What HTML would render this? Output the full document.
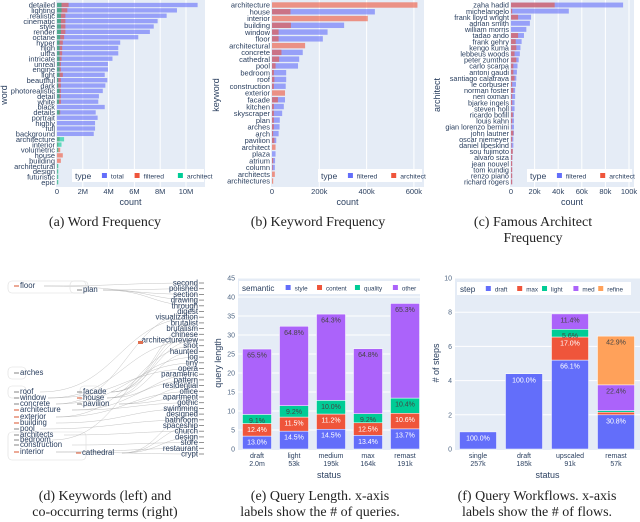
<!DOCTYPE html>
<html><head><meta charset="utf-8">
<style>
body{margin:0;background:#fff;}
svg{display:block;font-family:"Liberation Sans",sans-serif;}
.cap{font-family:"Liberation Serif",serif;font-size:14px;fill:#222;text-anchor:middle;}
</style></head>
<body>
<svg id="fig" width="640" height="522" viewBox="0 0 640 522"></svg>
<script>
// ---- (a) word frequency data (millions) ----
const wordCats=["detailed","lighting","realistic","cinematic","style","render","octane","hyper","high","ultra","intricate","unreal","engine","light","beautiful","dark","photorealistic","detail","white","black","details","portrait","highly","full","background","architecture","interior","volumetric","house","building","architectural","design","futuristic","epic"];
const wordTotal=[10.9,9.3,8.5,7.8,7.5,7.2,6.3,4.9,4.75,4.75,4.3,3.95,3.95,3.7,3.9,3.75,3.55,3.25,3.2,3.7,3.0,3.15,2.95,2.95,2.85,0,0,0,0,0,0,0,0,0];
const wordFiltered=[0.9,0.8,0.65,0.65,0.65,0.65,0.55,0.45,0.4,0.4,0.35,0.3,0.3,0.45,0.3,0.3,0.3,0.3,0.3,0,0.25,0,0,0,0,0.2,0.1,0.25,0.45,0.3,0.05,0.05,0.05,0.05];
const wordArchitect=[0.35,0.35,0.3,0.3,0.3,0.3,0.25,0.2,0.2,0.2,0.2,0.2,0.2,0.2,0.1,0.1,0.2,0.2,0.15,0,0.2,0,0,0,0,0.55,0.35,0.1,0,0,0.1,0.1,0.1,0.1];
const wordTicks=[0,2,4,6,8,10];
const wordTickLabels=["0","2M","4M","6M","8M","10M"];
// ---- (b) keyword frequency (thousands) ----
const kwCats=["architecture","house","interior","building","window","floor","architectural","concrete","cathedral","pool","bedroom","roof","construction","exterior","facade","kitchen","skyscraper","plan","arches","arch","pavilion","architect","plaza","atrium","column","architects","architectures"];
const kwFiltered=[0,435,0,305,235,215,0,130,115,110,60,60,58,0,55,50,43,33,32,28,18,0,15,13,12,0,0];
const kwArchitect=[615,78,405,80,28,28,140,40,30,15,8,10,8,55,25,8,8,8,8,5,10,15,0,5,3,12,5];
const kwTicks=[0,200,400,600];
const kwTickLabels=["0","200k","400k","600k"];
// ---- (c) architect frequency (thousands) ----
const arCats=["zaha hadid","michelangelo","frank lloyd wright","adrian smith","william morris","tadao ando","frank gehry","kengo kuma","lebbeus woods","peter zumthor","carlo scarpa","antoni gaudi","santiago calatrava","le corbusier","norman foster","neri oxman","bjarke ingels","steven holl","ricardo bofill","louis kahn","gian lorenzo bernini","john lautner","oscar niemeyer","daniel libeskind","sou fujimoto","alvaro siza","jean nouvel","tom kundig","renzo piano","richard rogers"];
const arFiltered=[95,49,17,16,13,11,9,8,7.5,6.5,5.5,5,4.5,4.2,3.5,3.5,3,3,2.5,2.5,2.5,2.5,2,2,1.5,1.2,1,1,1,1];
const arArchitect=[37,1,6,0,0,6,4,4.5,3,4.5,2,2,3,1,2,1,1,0.5,1.5,1,0.5,2,1,0.5,1.5,1,1,1,1,1];
const arTicks=[0,20,40,60,80,100];
const arTickLabels=["0","20k","40k","60k","80k","100k"];
// ---- (e) query length ----
const qlCats=["draft","light","medium","max","remast"];
const qlCounts=["2.0m","53k","195k","164k","191k"];
const qlStyle=[3.4,4.7,5.2,3.6,5.3];
const qlContent=[3.3,3.7,4.0,3.3,4.1];
const qlQuality=[2.4,3.0,3.6,2.4,4.0];
const qlOther=[17.2,20.9,22.7,17.1,24.9];
const qlStyleLbl=["13.0%","14.5%","14.5%","13.4%","13.7%"];
const qlContentLbl=["12.4%","11.5%","11.2%","12.5%","10.6%"];
const qlQualityLbl=["9.1%","9.2%","10.0%","9.2%","10.4%"];
const qlOtherLbl=["65.5%","64.8%","64.3%","64.8%","65.3%"];
const qlTicks=[0,5,10,15,20,25,30,35,40,45];
// ---- (f) workflows ----
const wfCats=["single","draft","upscaled","remast"];
const wfCounts=["257k","185k","91k","57k"];
const wfDraft=[1,4.4,5.2,2.0];
const wfMax=[0,0,1.35,0.15];
const wfLight=[0,0,0.45,0.1];
const wfMed=[0,0,0.9,1.5];
const wfRefine=[0,0,0,2.85];
const wfDraftLbl=["100.0%","100.0%","66.1%","30.8%"];
const wfMaxLbl=["","","17.0%",""];
const wfLightLbl=["","","5.6%",""];
const wfMedLbl=["","","11.4%","22.4%"];
const wfRefineLbl=["","","","42.9%"];
const wfTicks=[0,2,4,6,8,10];
// ---- (d) keyword graph ----
const dLeft=[["floor",20,288],["arches",20,375],["roof",20,394],["window",20,400],["concrete",20,406],["architecture",20,412],["exterior",20,419],["building",20,425],["pool",20,431],["architects",20,437],["bedroom",20,442],["construction",20,447],["interior",20,454],["plan",83,292],["facade",83,394],["house",83,400],["pavilion",83,406],["cathedral",82,455]];
const dRight=["second","polished","section","drawing","through","digest","visualization","brutalist","brutalism","chinese","architectureview","shot","haunted","log","tiny","opera","parametric","pattern","residential","office","apartment","gothic","swimming","designed","bathroom","spaceship","church","design","store","restaurant","crypt"];

const NS="http://www.w3.org/2000/svg";
const svg=document.getElementById('fig');
function el(tag,attrs,parent,text){const e=document.createElementNS(NS,tag);for(const k in attrs)e.setAttribute(k,attrs[k]);if(text!==undefined)e.textContent=text;(parent||svg).appendChild(e);return e;}
const BLUE="#636efa",RED="#ef553b",GREEN="#00cc96",PURPLE="#ab63fa",ORANGE="#ffa15a",TXT="#2a3f5f",BG="#e5ecf6";

function legend(x,y,w,title,items,fs){
  const g=el('g',{});
  
  
  el('rect',{x:x,y:y,width:w,height:13,fill:'#fff'},g);
  el('text',{x:x+3,y:y+10,'font-size':fs+1.8,fill:TXT},g,title);
  const tw=title.length*(fs+1.8)*0.55+8;
  const total=items.reduce((s,it)=>s+9+it[0].length*fs*0.52,0);
  const gap=Math.max(6,(w-tw-6-total)/items.length);
  let cx=x+3+tw;
  items.forEach(it=>{
    const e=el('g',{},g);
    
    
    el('rect',{x:cx,y:y+4,width:5,height:5,fill:it[1]},e);
    el('text',{x:cx+9,y:y+9.5,'font-size':fs,fill:TXT},e,it[0]);
    cx+=9+it[0].length*fs*0.52+gap;
  });
}

function hbar(o){
  const g=el('g',{});
  
  
  el('rect',{x:o.px0,y:0,width:o.px1-o.px0,height:187,fill:BG},g);
  const sx=v=>o.x0+v*o.scale;
  const sy=i=>o.y0+i*o.gap;
  o.ticks.forEach((t,i)=>{
    if(t>0) el('line',{x1:sx(t),x2:sx(t),y1:0,y2:187,stroke:'#fff','stroke-width':1},g);
    el('text',{x:sx(t),y:194,'font-size':7.5,fill:TXT,'text-anchor':'middle'},g,o.tickLabels[i]);
  });
  el('text',{x:(o.px0+o.px1)/2,y:205,'font-size':9,fill:TXT,'text-anchor':'middle'},g,'count');
  const yt=el('text',{x:o.ytx,y:95,'font-size':9,fill:TXT,'text-anchor':'middle',transform:`rotate(-90 ${o.ytx} 95)`},g,o.ytitle);
  
  
  o.cats.forEach((c,i)=>{
    el('text',{x:o.x0-2,y:sy(i)+2.7,'font-size':o.fs,fill:TXT,'text-anchor':'end'},g,c);
    o.series.forEach(s=>{
      const v=s[0][i];
      if(v>0){
        const r=el('rect',{x:sx(0),y:sy(i)-o.bh/2,width:v*o.scale,height:o.bh,fill:s[1],'fill-opacity':0.6},g);
        
        
      }
    });
  });
}

hbar({name:'word-frequency-chart',px0:56,px1:205,x0:57,scale:12.9,y0:5,gap:5.37,bh:4.3,fs:7.5,cats:wordCats,
  series:[[wordTotal,BLUE],[wordFiltered,RED],[wordArchitect,GREEN]],ticks:wordTicks,tickLabels:wordTickLabels,ytitle:'word',ytx:7});
legend(72,169,132,'type',[['total',BLUE],['filtered',RED],['architect',GREEN]],6.8);
hbar({name:'keyword-frequency-chart',px0:271,px1:424,x0:272,scale:0.2365,y0:5,gap:6.77,bh:5.4,fs:7.5,cats:kwCats,
  series:[[kwFiltered,BLUE],[kwArchitect,RED]],ticks:kwTicks,tickLabels:kwTickLabels,ytitle:'keyword',ytx:219});
legend(318,169,104,'type',[['filtered',BLUE],['architect',RED]],6.8);
hbar({name:'architect-frequency-chart',px0:510,px1:634,x0:511,scale:1.18,y0:5,gap:6.1,bh:4.9,fs:7.3,cats:arCats,
  series:[[arFiltered,BLUE],[arArchitect,RED]],ticks:arTicks,tickLabels:arTickLabels,ytitle:'architect',ytx:440});
legend(527,169,105,'type',[['filtered',BLUE],['architect',RED]],6.8);

// captions
[["(a) Word Frequency",105,226],["(b) Keyword Frequency",318,226],["(c) Famous Architect",533,226],["Frequency",533,242],
 ["(d) Keywords (left) and",105,500],["co-occurring terms (right)",105,516],["(e) Query Length. x-axis",320,500],["labels show the # of queries.",320,516],
 ["(f) Query Workflows. x-axis",537,500],["labels show the # of flows.",537,516]].forEach(c=>{
  const t=el('text',{x:c[1],y:c[2],class:'cap'},svg,c[0]);
  
  
});

// stacked vertical bars
function vstack(o){
  const g=el('g',{});
  
  
  el('rect',{x:o.px0,y:278,width:o.px1-o.px0,height:172,fill:BG},g);
  const sy=v=>449-v*o.scale;
  o.ticks.forEach(t=>{
    if(t>0) el('line',{x1:o.px0,x2:o.px1,y1:sy(t),y2:sy(t),stroke:'#fff','stroke-width':1},g);
    el('text',{x:o.px0-3,y:sy(t)+2.5,'font-size':7,fill:'#506784','text-anchor':'end'},g,String(t));
  });
  const ytx=o.ytx;
  el('text',{x:ytx,y:363,'font-size':9,fill:TXT,'text-anchor':'middle',transform:`rotate(-90 ${ytx} 363)`},g,o.ytitle);
  el('text',{x:(o.px0+o.px1)/2,y:478,'font-size':9,fill:TXT,'text-anchor':'middle'},g,'status');
  o.cats.forEach((c,i)=>{
    const cx=o.c0+i*o.step;
    el('text',{x:cx,y:458,'font-size':7,fill:TXT,'text-anchor':'middle'},g,c);
    el('text',{x:cx,y:466,'font-size':7,fill:TXT,'text-anchor':'middle'},g,o.counts[i]);
    let base=0;
    o.series.forEach(s=>{
      const v=s[0][i];
      if(v>0){
        const r=el('rect',{x:cx-o.bw/2,y:sy(base+v),width:o.bw,height:v*o.scale,fill:s[1],stroke:'#fff','stroke-width':0.5},g);
        
        
        const lbl=s[2][i];
        if(lbl){
          const dark=(s[1]==PURPLE||s[1]==ORANGE||s[1]==GREEN);
          const fs=v*o.scale<7?4.5:7;
          el('text',{x:cx,y:sy(base+v)+(fs<5?5:8.5),'font-size':fs,fill:dark?'#444':'#fff','text-anchor':'middle'},g,lbl);
        }
      }
      base+=v;
    });
  });
}
vstack({name:'query-length-chart',px0:238,px1:420,scale:3.8,ticks:qlTicks,ytitle:'query length',ytx:221,c0:257,step:37,bw:29,
  cats:qlCats,counts:qlCounts,series:[[qlStyle,BLUE,qlStyleLbl,'style'],[qlContent,RED,qlContentLbl,'content'],[qlQuality,GREEN,qlQualityLbl,'quality'],[qlOther,PURPLE,qlOtherLbl,'other']]});
legend(239,281,181,'semantic',[['style',BLUE],['content',RED],['quality',GREEN],['other',PURPLE]],6.3);
vstack({name:'workflow-chart',px0:455,px1:640,scale:17.1,ticks:wfTicks,ytitle:'# of steps',ytx:439,c0:478,step:46,bw:37,
  cats:wfCats,counts:wfCounts,series:[[wfDraft,BLUE,wfDraftLbl,'draft'],[wfMax,RED,wfMaxLbl,'max'],[wfLight,GREEN,wfLightLbl,'light'],[wfMed,PURPLE,wfMedLbl,'med'],[wfRefine,ORANGE,wfRefineLbl,'refine']]});
legend(457,282,174,'step',[['draft',BLUE],['max',RED],['light',GREEN],['med',PURPLE],['refine',ORANGE]],6.3);

// (d) keyword co-occurrence graph
(function(){
  const g=el('g',{});
  
  
  const ry=i=>285+i*5.7;
  const links=[[0,0],[0,2],[13,1],[13,3],[13,4],[14,7],[14,8],[14,10],[15,9],[15,12],[15,16],[16,18],[16,20],[2,6],[3,10],[4,14],[5,17],[6,19],[7,22],[8,24],[9,26],[10,11],[11,28],[12,29],[12,30],[17,27],[17,25],[17,23],[5,21],[3,15],[4,5],[6,13]];
  links.forEach(l=>{
    const a=dLeft[l[0]];const x1=a[1]+a[0].length*4+4,y1=a[2]-2,x2=198,y2=ry(l[1])-2;
    el('path',{d:`M${x1},${y1} C${(x1+x2)/2},${y1} ${(x1+x2)/2},${y2} ${x2},${y2}`,fill:'none',stroke:'#aaa','stroke-width':0.5,'stroke-opacity':0.7},g);
  });
  [[8,281,78,12],[70,281,18,12],[8,367,18,12],[8,386,18,12],[80,386,20,20],[8,432,78,28]].forEach(b=>el('rect',{x:b[0],y:b[1],width:b[2],height:b[3],rx:4,fill:'none',stroke:'#ddd','stroke-width':0.6},g));
  dLeft.forEach(n=>{
    el('line',{x1:n[1]-6,x2:n[1]-1,y1:n[2]-2,y2:n[2]-2,stroke:(['architecture','building','interior','house','exterior','cathedral','floor'].includes(n[0])?'#e07050':'#999'),'stroke-width':1.2},g);
    el('text',{x:n[1],y:n[2],'font-size':7.8,fill:TXT},g,n[0]);
  });
  dRight.forEach((n,i)=>{
    el('text',{x:198,y:ry(i)+0.5,'font-size':7.8,fill:TXT,'text-anchor':'end'},g,n);
    el('line',{x1:199,x2:204,y1:ry(i)-2,y2:ry(i)-2,stroke:'#777','stroke-width':0.8},g);
  });
  el('rect',{x:138,y:341,width:5,height:3,fill:'#e07050'},g);
})();
</script>
</body></html>
